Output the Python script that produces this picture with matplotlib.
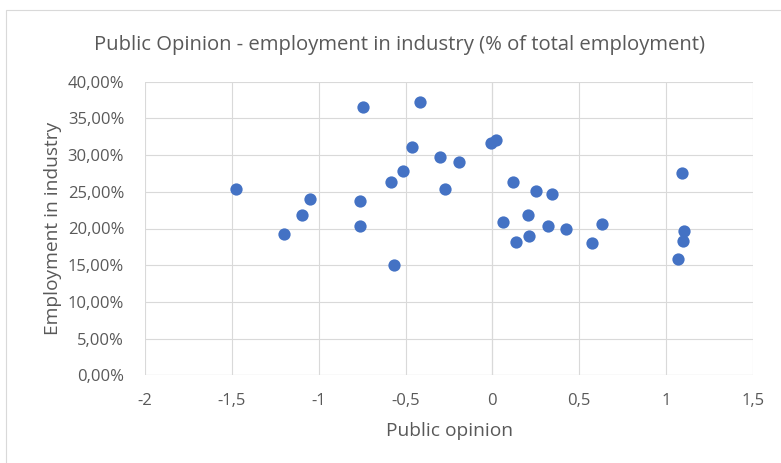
import matplotlib
matplotlib.use("Agg")
import matplotlib.pyplot as plt
from matplotlib.ticker import FuncFormatter, MultipleLocator
from matplotlib.patches import Rectangle

# public opinion score vs. share of employment in industry (%)
opinion = [-0.747, -0.419, -0.463, -0.304, -0.193, -0.010, 0.022, -0.515,
           -0.584, -0.273, -1.474, -1.050, -1.096, -1.198, -0.761, -0.761,
           -0.565, 0.116, 0.250, 0.344, 0.060, 0.206, 0.319, 0.421,
           0.137, 0.212, 0.630, 0.573, 1.090, 1.102, 1.096, 1.066]
industry = [36.6, 37.2, 31.1, 29.7, 29.1, 31.7, 32.0, 27.9,
            26.3, 25.4, 25.4, 24.0, 21.9, 19.25, 23.75, 20.4,
            15.07, 26.4, 25.1, 24.7, 20.9, 21.9, 20.3, 20.0,
            18.2, 19.0, 20.6, 18.0, 27.5, 19.6, 18.3, 15.9]

grey = "#595959"
blue = "#4472C4"
plt.rcParams['font.family'] = ['Open Sans', 'DejaVu Sans']

fig = plt.figure(figsize=(7.81, 4.63), dpi=100)
fig.patches.append(Rectangle((6 / 781, -0.1), 1.1, 1 - 10 / 463 + 0.1,
                             transform=fig.transFigure, fill=False,
                             edgecolor="#D9D9D9", linewidth=0.8))
ax = fig.add_axes([145 / 781, 1 - 375.3 / 463, 608 / 781, 293.6 / 463])

ax.scatter(opinion, industry, s=78, color=blue, zorder=3, linewidths=0)

ax.set_xlim(-2, 1.5)
ax.set_ylim(0, 40)
ax.xaxis.set_major_locator(MultipleLocator(0.5))
ax.yaxis.set_major_locator(MultipleLocator(5))
ax.xaxis.set_major_formatter(FuncFormatter(lambda v, p: f"{v:g}".replace(".", ",")))
ax.yaxis.set_major_formatter(FuncFormatter(lambda v, p: f"{v:.2f}%".replace(".", ",")))

ax.grid(True, color="#D9D9D9", linewidth=0.8, zorder=0)
ax.axvline(0, color="#BFBFBF", linewidth=0.8, zorder=1)
ax.axhline(0, color="#BFBFBF", linewidth=0.8, zorder=1)
for s in ax.spines.values():
    s.set_visible(False)
ax.tick_params(length=0, labelsize=12, labelcolor=grey)
ax.tick_params(axis="x", pad=13)
ax.tick_params(axis="y", pad=15)

fig.text(400 / 781, 1 - 45 / 463,
         "Public Opinion - employment in industry (% of total employment)",
         fontsize=14.6, color=grey, ha="center", va="center")
ax.set_xlabel("Public opinion", fontsize=13.8, color=grey, labelpad=9)
ax.set_ylabel("Employment in industry", fontsize=13.8, color=grey, labelpad=4)

fig.savefig("out.png", dpi=100)
